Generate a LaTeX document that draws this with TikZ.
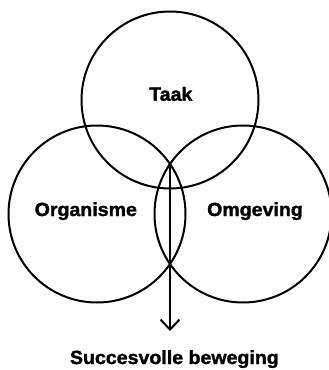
\documentclass[tikz,border=0pt]{standalone}
\usepackage{fontspec}
\newfontfamily\lab[FakeStretch=1.03,FakeBold=1.6]{Liberation Sans}
\usetikzlibrary{arrows.meta}
\begin{document}
\begin{tikzpicture}[x=1pt,y=-1pt,
  ring/.style={draw=black,line width=2pt},
  lbl/.style={anchor=base,inner sep=0pt,font=\lab\bfseries\fontsize{19}{22}\selectfont},
  flow/.style={draw=black,line width=2pt,-{Straight Barb[length=10pt,width=19pt,line width=2pt]}}]
\useasboundingbox (0,0) rectangle (329,370);
\begin{scope}
\clip (0,0) rectangle (329,370);
\node[ring,circle,minimum size=177pt,inner sep=0pt] (taak) at (170,100) {};
\node[ring,circle,minimum size=177pt,inner sep=0pt] (org) at (97,214) {};
\node[ring,circle,minimum size=177pt,inner sep=0pt] (omg) at (243,214) {};
\end{scope}
\node[lbl] (t1) at (170.8,100.7) {Taak};
\node[lbl] (t2) at (85.8,216) {Organisme};
\node[lbl] (t3) at (255,216) {Omgeving};
\node[lbl] (t4) at (174.4,364) {Succesvolle beweging};
\coordinate (start) at (170,164);
\coordinate (tip) at (170,331);
\draw[flow] (start) -- (tip);
\end{tikzpicture}
\end{document}
